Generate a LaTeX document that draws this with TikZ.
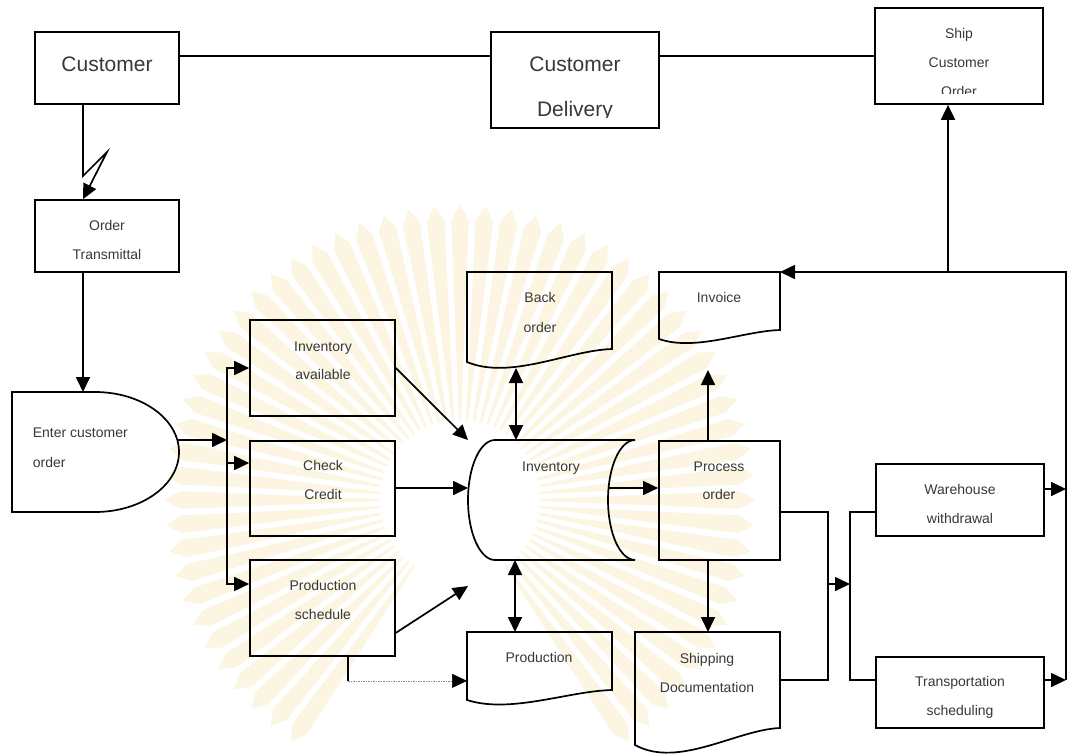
\documentclass[tikz,border=0pt]{standalone}
\usepackage{fontspec}
\setmainfont{Liberation Sans}
\usetikzlibrary{arrows.meta,calc}
\definecolor{raycol}{RGB}{251,245,226}
\begin{document}
\begin{tikzpicture}[x=1pt,y=-1pt,
  line width=1.7pt,
  >={Triangle[length=15pt,width=14pt]},
  box/.style={draw=black, line width=1.7pt, inner sep=0pt},
  area/.style={inner sep=0pt, outer sep=0pt},
  big/.style={font=\fontsize{21}{25}\selectfont, text=black!78, inner sep=0pt, text height=15pt, text depth=0pt},
  lbl/.style={font=\fontsize{14}{17}\selectfont, text=black!78, inner sep=0pt, text height=10pt, text depth=0pt},
  dotline/.style={draw=black!45, line width=0.6pt, dash pattern=on 1.5pt off 1pt},
  ray/.style={fill=raycol, draw=none},
]
\fill[white] (0,0) rectangle (1070,753);
\useasboundingbox (0,0) rectangle (1070,753);

% ---- faint sunburst emblem in the background
\coordinate (sun) at (460,500);
\foreach \a in {-235,-230,...,55} {
  \fill[ray] ($(sun)+(\a-0.8:80)$) -- ($(sun)+(\a-1.8:280)$) -- ($(sun)+(\a:295)$)
             -- ($(sun)+(\a+1.8:280)$) -- ($(sun)+(\a+0.8:80)$) -- cycle;
}

% ---- rectangular process boxes
\node[box, minimum width=144pt, minimum height=72pt] (cust)   at (107,68)    {};
\node[box, minimum width=168pt, minimum height=96pt] (deliv)  at (575,80)    {};
\node[box, minimum width=168pt, minimum height=96pt] (ship)   at (959,56)    {};
\node[box, minimum width=144pt, minimum height=72pt] (otrans) at (107,236)   {};
\node[box, minimum width=145pt, minimum height=96pt] (invav)  at (322.5,368) {};
\node[box, minimum width=145pt, minimum height=95pt] (credit) at (322.5,488.5){};
\node[box, minimum width=145pt, minimum height=96pt] (psched) at (322.5,608) {};
\node[box, minimum width=121pt, minimum height=119pt](proc)   at (719.5,500.5){};
\node[box, minimum width=168pt, minimum height=72pt] (ware)   at (960,500)   {};
\node[box, minimum width=168pt, minimum height=71pt] (tsched) at (960,692.5) {};

% ---- areas of the drawn symbols
\node[area, minimum width=167pt, minimum height=120pt] (enter)   at (95.5,452)  {};
\node[area, minimum width=167pt, minimum height=120pt] (inv)     at (551.5,500) {};
\node[area, minimum width=145pt, minimum height=96pt]  (back)    at (539.5,320) {};
\node[area, minimum width=121pt, minimum height=72pt]  (invoice) at (719.5,308) {};
\node[area, minimum width=145pt, minimum height=72pt]  (prod)    at (539.5,668) {};
\node[area, minimum width=145pt, minimum height=120pt] (shipdoc) at (707.5,692) {};

% manual input / delay symbol
\draw (enter.north west) -- (95,392)
  arc[start angle=-90, end angle=90, x radius=84, y radius=60]
  -- (enter.south west) -- cycle;
% stored data symbol
\draw (inv.north east) -- (495,440)
  arc[start angle=-90, end angle=-270, x radius=27, y radius=60]
  -- (inv.south east)
  arc[start angle=90, end angle=270, x radius=27, y radius=60];
% document symbols
\draw (back.north west) -- (back.north east) -- (612,349)
  .. controls (568.5,350.3) and (510.5,380.2) .. (467,362) -- cycle;
\draw (invoice.north west) -- (invoice.north east) -- (780,330)
  .. controls (743.7,331) and (695.3,351.6) .. (659,339) -- cycle;
\draw (prod.north west) -- (prod.north east) -- (612,690)
  .. controls (568.5,691) and (510.5,714) .. (467,700) -- cycle;
\draw (shipdoc.north west) -- (shipdoc.north east) -- (780,728)
  .. controls (736.5,729.7) and (678.5,768.8) .. (635,745) -- cycle;

% ---- texts
\node[big] (t-cust) at (107,64) {Customer};
\begin{scope}
  \clip (deliv.north west) rectangle (659,117);
  \node[big] (t-deliv1) at (575,64)  {Customer};
  \node[big] (t-deliv2) at (575,109) {Delivery};
\end{scope}
\begin{scope}
  \clip (ship.north west) rectangle (1043,93);
  \node[lbl] (t-ship1) at (959,33) {Ship};
  \node[lbl] (t-ship2) at (959,62) {Customer};
  \node[lbl] (t-ship3) at (959,91) {Order};
\end{scope}
\node[lbl] (t-ot1) at (107,225) {Order};
\node[lbl] (t-ot2) at (107,254) {Transmittal};
\node[lbl, anchor=west] (t-en1) at (32,432) {Enter customer};
\node[lbl, anchor=west] (t-en2) at (32,462) {order};
\node[lbl] (t-ia1) at (323,346) {Inventory};
\node[lbl] (t-ia2) at (323,374) {available};
\node[lbl] (t-cc1) at (323,465) {Check};
\node[lbl] (t-cc2) at (323,494) {Credit};
\node[lbl] (t-ps1) at (323,585) {Production};
\node[lbl] (t-ps2) at (323,614) {schedule};
\node[lbl] (t-bo1) at (540,297) {Back};
\node[lbl] (t-bo2) at (540,327) {order};
\node[lbl] (t-inv) at (551,466) {Inventory};
\node[lbl] (t-prd) at (539,657) {Production};
\node[lbl] (t-ivc) at (719,297) {Invoice};
\node[lbl] (t-po1) at (719,466) {Process};
\node[lbl] (t-po2) at (719,494) {order};
\node[lbl] (t-sd1) at (707,658) {Shipping};
\node[lbl] (t-sd2) at (707,687) {Documentation};
\node[lbl] (t-ww1) at (960,489) {Warehouse};
\node[lbl] (t-ww2) at (960,518) {withdrawal};
\node[lbl] (t-ts1) at (960,681) {Transportation};
\node[lbl] (t-ts2) at (960,710) {scheduling};

% ---- guide coordinates for the connector runs
\coordinate (lx)  at (83,0);
\coordinate (ty)  at (0,56);
\coordinate (ey)  at (0,440);
\coordinate (bus) at (227,0);
\coordinate (ccy) at (0,463);
\coordinate (cry) at (0,488);
\coordinate (psy) at (0,584);
\coordinate (bx1) at (516,0);
\coordinate (bx2) at (515,0);
\coordinate (invout) at (609,488);
\coordinate (px)  at (708,0);
\coordinate (invin) at (708,370);
\coordinate (mx)  at (828,0);
\coordinate (nx)  at (850,0);
\coordinate (y1)  at (0,512);
\coordinate (y2)  at (0,680);
\coordinate (my)  at (0,584);
\coordinate (wy)  at (0,489);
\coordinate (rx)  at (1066,0);
\coordinate (sx)  at (948,0);
\coordinate (dd)  at ($(psched.south)+(25.5,24)$);

% ---- connectors
\draw[->] (cust.south -| lx) -- (83,176) -- (107,152) -- (otrans.north -| lx);
\draw (cust.east |- ty) -- (deliv.west |- ty);
\draw (deliv.east |- ty) -- (ship.west);
\draw[->] (otrans.south -| lx) -- (enter.north -| lx);

\draw[->] (178,440) -- (bus |- ey);
\draw[->] (bus |- ey) -- (bus |- invav.west) -- (invav.west);
\draw[->] (bus |- ey) -- (bus |- psy) -- (psched.west |- psy);
\draw[->] (bus |- ccy) -- (credit.west |- ccy);

\draw[->] (invav.east) -- (inv.north west);
\draw[->] (credit.east |- cry) -- (inv.west |- cry);
\draw[->] ($(psched.south east)+(0,-24)$) -- ($(inv.south west)+(0,26)$);
\draw (psched.south -| dd) -- (dd);
\draw[dotline, -{Triangle[length=15pt,width=14pt,color=black]}] (dd) -- (prod.west |- dd);

\draw[<->] (back.south -| bx1) -- (inv.north -| bx1);
\draw[<->] (inv.south -| bx2) -- (prod.north -| bx2);

\draw[->] (invout) -- (proc.west |- invout);
\draw[->] (proc.north -| px) -- (invin);
\draw[->] (proc.south -| px) -- (shipdoc.north -| px);

\draw (proc.east |- y1) -- (mx |- y1) -- (mx |- y2) -- (shipdoc.east |- y2);
\draw[->] (mx |- my) -- (nx |- my);
\draw (ware.west |- y1) -- (nx |- y1) -- (nx |- y2) -- (tsched.west |- y2);

\draw[->] (ware.east |- wy) -- (rx |- wy);
\draw[->] (tsched.east |- y2) -- (rx |- y2);
\draw[->] (rx |- y2) -- (rx |- invoice.north) -- (invoice.north east);
\draw[->] (sx |- invoice.north) -- (ship.south -| sx);
\end{tikzpicture}
\end{document}
